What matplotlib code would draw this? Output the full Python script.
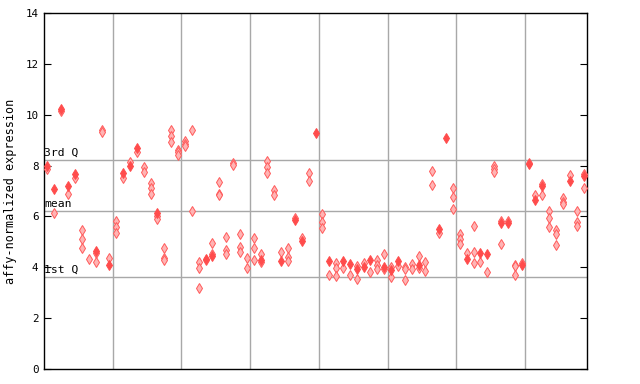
import numpy as np
import matplotlib
matplotlib.use("Agg")
import matplotlib.pyplot as plt

# expression per sample (sample index 0..78)
solid_x = [0, 1, 2, 3, 4, 7, 9, 11, 12, 13, 16, 23, 24, 31, 34, 36, 37, 39,
           41, 43, 44, 45, 46, 47, 49, 50, 51, 54, 57, 58, 61, 63, 64, 66, 67,
           69, 70, 71, 72, 76, 78]
solid_y = [7.98, 7.09, 10.24, 7.19, 7.66, 4.65, 4.09, 7.70, 8.00, 8.69, 6.13,
           4.33, 4.45, 4.28, 4.23, 5.85, 5.05, 9.28, 4.26, 4.26, 4.13, 3.95,
           4.02, 4.30, 4.02, 3.90, 4.24, 4.08, 5.52, 9.07, 4.34, 4.58, 4.54,
           5.75, 5.75, 4.09, 8.05, 6.65, 7.18, 7.40, 7.60]

hollow_x = [0, 1, 2, 3, 4, 5, 5, 5, 6, 7, 7, 8, 8, 9, 10, 10, 10, 11, 12, 13,
            14, 14, 15, 15, 15, 16, 16, 17, 17, 17, 18, 18, 18, 19, 19, 19,
            20, 20, 20, 21, 21, 22, 22, 22, 23, 24, 24, 25, 25, 25, 26, 26, 26,
            27, 27, 28, 28, 28, 29, 29, 30, 30, 30, 31, 31, 32, 32, 32, 33, 33,
            34, 35, 35, 35, 36, 37, 38, 38, 40, 40, 40, 41, 42, 42, 42, 43, 44,
            45, 45, 46, 47, 48, 48, 48, 49, 49, 50, 50, 51, 52, 52, 52, 53, 53,
            54, 54, 55, 55, 56, 56, 57, 59, 59, 59, 60, 60, 60, 61, 62, 62, 62,
            63, 64, 65, 65, 65, 66, 66, 67, 68, 68, 68, 69, 70, 71, 72, 72,
            73, 73, 73, 74, 74, 74, 75, 75, 75, 76, 77, 77, 77, 78, 78]
hollow_y = [7.87, 6.14, 10.13, 6.88, 7.52, 5.46, 5.10, 4.75, 4.32, 4.55, 4.20,
            9.40, 9.33, 4.36, 5.81, 5.58, 5.35, 7.52, 8.15, 8.53,
            7.95, 7.73, 7.31, 7.11, 6.88, 6.02, 5.89, 4.75, 4.36, 4.29,
            9.41, 9.16, 8.92, 8.62, 8.53, 8.43, 8.95, 8.85, 8.78, 9.41, 6.22,
            4.20, 3.96, 3.19, 4.28, 4.95, 4.52, 7.35, 6.90, 6.85, 5.18, 4.69,
            4.52, 8.10, 8.02, 5.30, 4.78, 4.59, 4.36, 3.96, 5.14, 4.75, 4.28,
            4.52, 4.19, 8.19, 7.94, 7.70, 7.03, 6.85, 4.59, 4.75, 4.42, 4.25,
            5.95, 5.14, 7.70, 7.41, 6.10, 5.77, 5.54, 3.69, 4.16, 3.99, 3.65,
            3.96, 3.69, 4.06, 3.54, 4.16, 3.83, 4.29, 4.10, 3.92, 4.52, 3.94,
            4.00, 3.61, 4.04, 4.03, 3.94, 3.49, 4.13, 3.92, 4.43, 3.99, 4.20,
            3.84, 7.78, 7.24, 5.34, 7.11, 6.76, 6.29, 5.30, 5.11, 4.91, 4.55,
            5.61, 4.59, 4.16, 4.20, 3.81, 7.99, 7.87, 7.76, 5.82, 4.91, 5.83,
            4.10, 4.05, 3.69, 4.16, 8.12, 6.85, 7.27, 6.85, 6.21, 5.93, 5.58,
            5.47, 5.30, 4.87, 6.72, 6.56, 6.47, 7.62, 6.21, 5.80, 5.63, 7.66,
            7.11]

n_samples = 79
group_edges = [9.5, 19.5, 29.5, 39.5, 49.5, 59.5, 69.5]
q_levels = [8.21, 6.21, 3.61]
q_labels = ["3rd Q", "mean", "1st Q"]

fig = plt.figure(figsize=(6.4, 3.84), dpi=100)
ax = fig.add_axes([44 / 640, 15 / 384, 543 / 640, 356 / 384])

for xe in group_edges:
    ax.axvline(xe, color="#a8a8a8", lw=1, zorder=1)
for lv, lb in zip(q_levels, q_labels):
    ax.axhline(lv, color="#a8a8a8", lw=1, zorder=1)
    ax.text(-0.45, lv + 0.08, lb, family="DejaVu Sans Mono", fontsize=8.2,
            va="bottom", ha="left", zorder=2)

ax.plot(hollow_x, hollow_y, "d", ms=4.7, mfc="#ffb4b4", mec="#ff5a5a",
        mew=0.7, ls="none", zorder=3)
ax.plot(solid_x, solid_y, "d", ms=4.7, mfc="#ff4c4c", mec="#ff4c4c",
        mew=0.7, ls="none", zorder=4)

ax.set_xlim(-0.5, n_samples - 0.5)
ax.set_ylim(0, 14)
ax.set_xticks([])
ax.set_yticks(np.arange(0, 15, 2))
ax.tick_params(axis="y", direction="in", length=5, right=True,
               labelsize=7.8, pad=4)
for lab in ax.get_yticklabels():
    lab.set_family("DejaVu Sans Mono")
ax.set_ylabel("affy-normalized expression", family="DejaVu Sans Mono",
              fontsize=8.5, labelpad=6)
for s in ax.spines.values():
    s.set_linewidth(1)

fig.savefig("out.png", dpi=100)
